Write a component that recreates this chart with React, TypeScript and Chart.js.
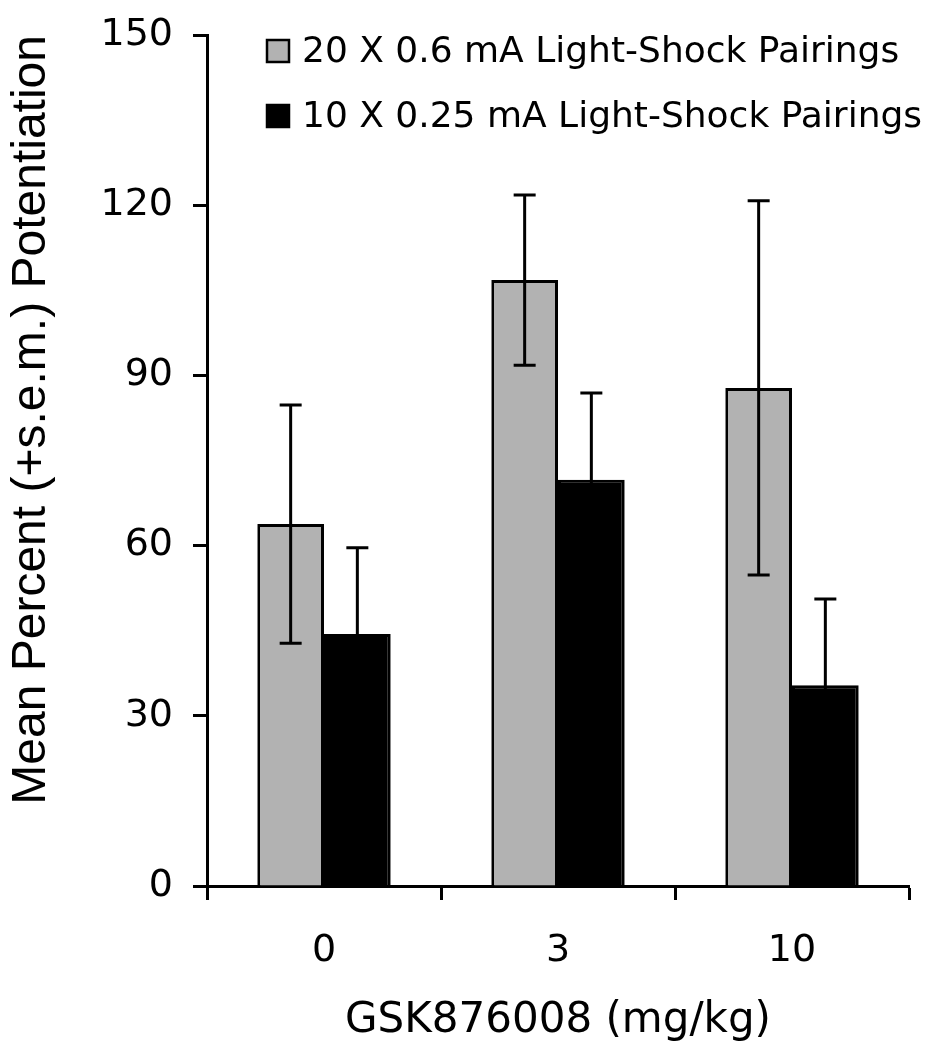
import React, { useEffect, useRef } from "react";
import { Chart, registerables } from "chart.js";

Chart.register(...registerables);

const categories = ["0", "3", "10"];
const series1Label = "20 X 0.6 mA Light-Shock Pairings";
const series2Label = "10 X 0.25 mA Light-Shock Pairings";
const series1Values = [63.8, 106.8, 87.8];
const series1Errors = [21, 15, 33];
const series2Values = [44.4, 71.6, 35.4];
const series2Errors = [15.2, 15.3, 15.2];
const yTicks = [0, 30, 60, 90, 120, 150];

const GRAY = "#b2b2b2";

const errorBarPlugin = {
  id: "errorBars",
  afterDatasetsDraw(chart: any) {
    const ctx = chart.ctx;
    const y = chart.scales.y;
    const errs = [series1Errors, series2Errors];
    chart.data.datasets.forEach((ds: any, di: number) => {
      const meta = chart.getDatasetMeta(di);
      meta.data.forEach((bar: any, i: number) => {
        const v = ds.data[i];
        const e = errs[di][i];
        const x = bar.x;
        const yt = y.getPixelForValue(v + e);
        const yb = y.getPixelForValue(v - e);
        ctx.save();
        ctx.strokeStyle = "#000";
        ctx.lineWidth = 3;
        ctx.beginPath();
        ctx.moveTo(x, yt);
        ctx.lineTo(x, yb);
        ctx.moveTo(x - 11, yt);
        ctx.lineTo(x + 11, yt);
        ctx.moveTo(x - 11, yb);
        ctx.lineTo(x + 11, yb);
        ctx.stroke();
        ctx.restore();
      });
    });
  },
};

const legendPlugin = {
  id: "customLegend",
  afterDraw(chart: any) {
    const ctx = chart.ctx;
    const a = chart.chartArea;
    const items = [
      { label: series1Label, color: GRAY },
      { label: series2Label, color: "#000" },
    ];
    ctx.save();
    ctx.font = "36px 'DejaVu Sans'";
    ctx.textBaseline = "middle";
    ctx.textAlign = "left";
    items.forEach((it, i) => {
      const bx = a.left + 60;
      const by = a.top + 5 + i * 65;
      ctx.fillStyle = it.color;
      ctx.fillRect(bx, by, 22, 22);
      ctx.strokeStyle = "#000";
      ctx.lineWidth = 2.5;
      ctx.strokeRect(bx, by, 22, 22);
      ctx.fillStyle = "#000";
      ctx.fillText(it.label, bx + 35, by + 13);
    });
    ctx.restore();
  },
};

export default function App() {
  const ref = useRef<HTMLCanvasElement>(null);
  useEffect(() => {
    document.body.style.margin = "0";
    const chart = new Chart(ref.current!, {
      type: "bar",
      data: {
        labels: categories,
        datasets: [
          {
            label: series1Label,
            data: series1Values,
            backgroundColor: GRAY,
            borderColor: "#000",
            borderWidth: 3,
            borderSkipped: "start",
            categoryPercentage: 0.57,
            barPercentage: 1.0,
          },
          {
            label: series2Label,
            data: series2Values,
            backgroundColor: "#000",
            borderColor: "#000",
            borderWidth: 3,
            borderSkipped: "start",
            categoryPercentage: 0.57,
            barPercentage: 1.0,
          },
        ],
      },
      options: {
        animation: false,
        responsive: false,
        maintainAspectRatio: false,
        layout: { padding: { left: 0, right: 25, top: 35, bottom: 0 } },
        plugins: { legend: { display: false }, tooltip: { enabled: false } },
        scales: {
          x: {
            afterFit(scale: any) {
              scale.height = 164;
            },
            grid: {
              display: true,
              drawOnChartArea: false,
              drawTicks: true,
              tickLength: 14,
              tickWidth: 3,
              tickColor: "#000",
              offset: true,
            },
            border: { display: true, color: "#000", width: 3 },
            ticks: {
              color: "#000",
              font: { family: "'DejaVu Sans'", size: 38 },
              padding: 28,
            },
            title: {
              display: true,
              text: "GSK876008 (mg/kg)",
              color: "#000",
              font: { family: "'DejaVu Sans'", size: 42 },
              padding: { top: 0, bottom: 4 },
            },
          },
          y: {
            min: 0,
            max: 150,
            afterFit(scale: any) {
              scale.width = 207;
            },
            afterBuildTicks(scale: any) {
              scale.ticks = yTicks.map((v) => ({ value: v }));
            },
            grid: {
              display: true,
              drawOnChartArea: false,
              drawTicks: true,
              tickLength: 14,
              tickWidth: 3,
              tickColor: "#000",
            },
            border: { display: true, color: "#000", width: 3 },
            ticks: {
              color: "#000",
              font: { family: "'DejaVu Sans'", size: 38, lineHeight: 0.5 },
              padding: 20,
            },
            title: {
              display: true,
              text: "Mean Percent (+s.e.m.) Potentiation",
              color: "#000",
              align: "end",
              font: { family: "'Liberation Sans'", size: 48, lineHeight: 1 },
              padding: { top: 8, bottom: 0 },
            },
          },
        },
      },
      plugins: [errorBarPlugin, legendPlugin],
    } as any);
    return () => chart.destroy();
  }, []);
  return (
    <div style={{ width: 934, height: 1050 }}>
      <canvas ref={ref} width={934} height={1050} style={{ width: 934, height: 1050 }} />
    </div>
  );
}
